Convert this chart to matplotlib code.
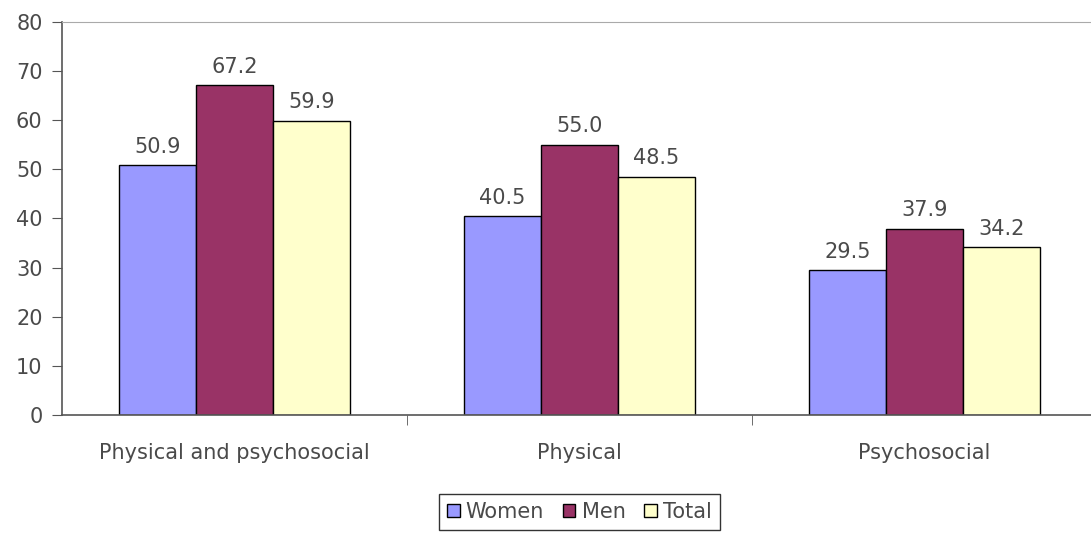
import numpy as np
import matplotlib.pyplot as plt

plt.rcParams['font.family'] = ['DejaVu Sans']

categories = ["Physical and psychosocial", "Physical", "Psychosocial"]
series_names = ["Women", "Men", "Total"]
women = [50.9, 40.5, 29.5]
men = [67.2, 55.0, 37.9]
total = [59.9, 48.5, 34.2]
colors = ["#9999FF", "#993366", "#FFFFCC"]

fs = 15
txt = "#4a4a4a"
fig = plt.figure(figsize=(10.91, 5.36), dpi=100)
ax = fig.add_axes([62 / 1091, 121 / 536, 1035 / 1091, 393 / 536])

x = np.arange(len(categories))
w = 0.223
for i, (vals, name) in enumerate(zip([women, men, total], series_names)):
    pos = x + (i - 1) * w
    ax.bar(pos, vals, w, color=colors[i], edgecolor="black", linewidth=1.0, label=name)
    for p, v in zip(pos, vals):
        ax.annotate(f"{v:.1f}", (p, v), xytext=(0, 6), textcoords="offset points",
                    ha="center", va="bottom", fontsize=fs, color=txt)

ax.set_xlim(-0.5, 2.5)
ax.set_ylim(0, 80)
ax.set_yticks(range(0, 81, 10))
ax.set_xticks(x)
ax.set_xticklabels(categories, fontsize=fs, color=txt)
ax.set_xticks([0.5, 1.5, 2.5], minor=True)
ax.tick_params(axis="x", which="major", length=0, pad=20)
ax.tick_params(axis="x", which="minor", length=7, color="#555555")
ax.tick_params(axis="y", labelsize=fs, labelcolor=txt, length=7, color="#555555", pad=7)

for s in ["left", "bottom"]:
    ax.spines[s].set_color("#555555")
    ax.spines[s].set_linewidth(1.2)
ax.spines["top"].set_color("#aaaaaa")
ax.spines["right"].set_visible(False)

leg = ax.legend(loc="upper center", bbox_to_anchor=(0.5, -0.2), ncol=3, fontsize=fs,
                frameon=True, fancybox=False, handlelength=0.6, handleheight=0.6,
                handletextpad=0.3, columnspacing=0.9, borderpad=0.4, borderaxespad=0)
leg.get_frame().set_edgecolor("black")
leg.get_frame().set_linewidth(1.0)
for t in leg.get_texts():
    t.set_color(txt)

fig.savefig("out.png", dpi=100)
